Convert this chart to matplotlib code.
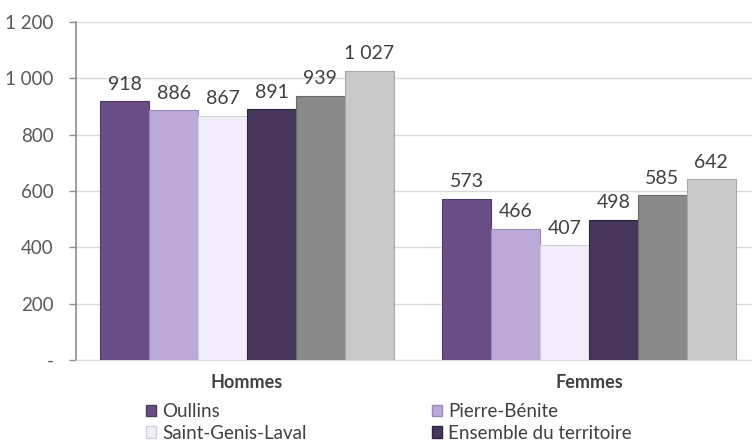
import matplotlib
matplotlib.use("Agg")
import matplotlib.pyplot as plt
from matplotlib.patches import Patch
import numpy as np

categories = ["Hommes", "Femmes"]
series_names = ["Oullins", "Pierre-Bénite", "Saint-Genis-Laval", "Ensemble du territoire", "Série 5", "Série 6"]
oullins = [918, 573]
pierre_benite = [886, 466]
saint_genis = [867, 407]
ensemble = [891, 498]
serie5 = [939, 585]
serie6 = [1027, 642]
yticks = [0, 200, 400, 600, 800, 1000, 1200]
ytick_labels = ["-", "200", "400", "600", "800", "1 000", "1 200"]

series = [oullins, pierre_benite, saint_genis, ensemble, serie5, serie6]
colors = ["#6A4E86", "#BBA9D7", "#F2EEF9", "#47375B", "#8A8A8A", "#C9C9C9"]
edges = ["#4E3866", "#9C88BA", "#D5CEE0", "#2F233F", "#6A6A6A", "#A8A8A8"]

plt.rcParams['font.family'] = ['Lato', 'DejaVu Sans']
fig = plt.figure(figsize=(7.52, 4.46), dpi=100)
W, H = 752, 446
ax = fig.add_axes([76 / W, (H - 360) / H, 684 / W, 338 / H])

def fmt(v):
    return f"{v:,}".replace(",", " ")

x = np.arange(len(categories))
bw = 0.143
n = len(series)
for i, (vals, c, ec) in enumerate(zip(series, colors, edges)):
    pos = x + (i - (n - 1) / 2) * bw
    bars = ax.bar(pos, vals, width=bw, color=c, edgecolor=ec, linewidth=0.8, zorder=3)
    for b, v in zip(bars, vals):
        ax.annotate(fmt(v), (b.get_x() + b.get_width() / 2, v), xytext=(0, 6),
                    textcoords="offset points", ha="center", va="bottom",
                    fontsize=14, color="#404040", zorder=4)

ax.set_xlim(-0.5, 1.5)
ax.set_ylim(0, 1200)
ax.set_yticks(yticks)
ax.set_yticklabels(ytick_labels, fontsize=13.5, color="#595959")
ax.set_xticks(x)
ax.set_xticklabels(categories, fontsize=13, fontweight="bold", color="#404040")
ax.tick_params(axis="x", length=0, pad=10)
ax.tick_params(axis="y", length=5, width=1, color="#8C8C8C", direction="out", pad=11)
ax.yaxis.grid(True, color="#D9D9D9", linewidth=1, zorder=0)
ax.set_axisbelow(True)
for s in ["top", "right"]:
    ax.spines[s].set_visible(False)
ax.spines["bottom"].set_color("#D9D9D9")
ax.spines["left"].set_color("#8C8C8C")
ax.spines["left"].set_linewidth(1.2)

legend_kw = dict(loc="upper left", frameon=False, fontsize=13.5, handlelength=0.55,
                 handleheight=0.55, handletextpad=0.3, labelspacing=0.25,
                 borderaxespad=0, borderpad=0, labelcolor="#404040")
col1 = [0, 2]
col2 = [1, 3]
h1 = [Patch(facecolor=colors[k], edgecolor=edges[k], label=series_names[k]) for k in col1]
h2 = [Patch(facecolor=colors[k], edgecolor=edges[k], label=series_names[k]) for k in col2]
fig.legend(handles=h1, bbox_to_anchor=(146 / W, 1 - 403 / H), **legend_kw)
fig.legend(handles=h2, bbox_to_anchor=(432 / W, 1 - 403 / H), **legend_kw)

fig.savefig("out.png", dpi=100)
